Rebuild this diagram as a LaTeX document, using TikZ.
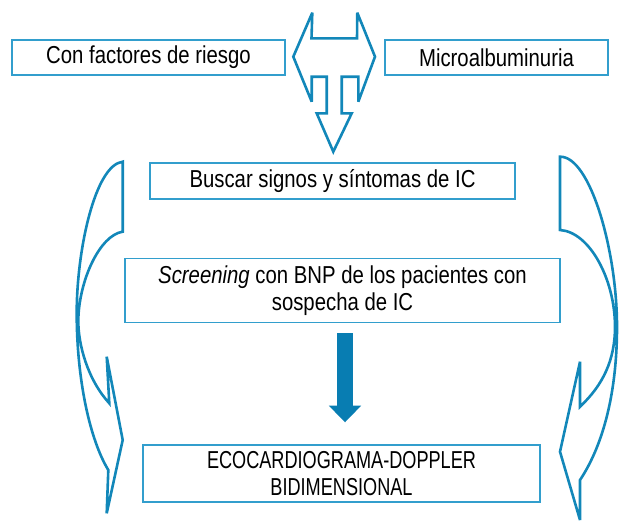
\documentclass[tikz,border=0pt]{standalone}
\usepackage{fontspec}
\setmainfont{Liberation Sans}[FakeStretch=0.83]
\usepackage{xcolor}
\usepackage{tikz}
\usetikzlibrary{arrows.meta}
\definecolor{lineablue}{RGB}{50,158,205}
\definecolor{flechablue}{RGB}{18,135,185}
\definecolor{rellenoblue}{RGB}{8,125,178}

\begin{document}
\begin{tikzpicture}[x=1pt,y=-1pt,node distance=183pt,
			caja/.style={draw=lineablue,line width=1.5pt,align=center,inner sep=0pt,
				font=\fontsize{24.5}{26.7}\selectfont},
			contorno/.style={draw=flechablue,line width=2.6pt,miter limit=4},
			gruesa/.style={draw=rellenoblue,line width=16.6pt,
				-{Triangle[width=32.4pt,length=16.6pt,line width=0pt]},
				shorten <=10pt,shorten >=22pt}]
			
			\useasboundingbox (0,0) rectangle (620,522);
			
			\node[caja,minimum width=273pt,minimum height=35pt] (riesgo) at (148.5,57.5) {Con factores de riesgo};
			\node[caja,minimum width=223pt,minimum height=35pt] (micro) at (496.5,57.5) {Microalbuminuria};
			\node[caja,minimum width=365pt,minimum height=36pt] (buscar) at (332.5,181) {Buscar signos y síntomas de IC};
			\node[caja,minimum width=435pt,minimum height=64pt] (scr) at (342.5,290.5) {\textit{Screening} con BNP de los pacientes con\\sospecha de IC};
			\node[caja,minimum width=397pt,minimum height=57pt] (eco) [below of = scr, xshift=-1pt]
				{\addfontfeatures{FakeStretch=0.74}ECOCARDIOGRAMA-DOPPLER\\\addfontfeatures{FakeStretch=0.74}BIDIMENSIONAL};
			
			\draw[gruesa] ([xshift=2.5pt]scr.south) -- ([xshift=3.5pt]eco.north);
			
			% flecha de las dos casillas de arriba
			\draw[contorno] (312.3,12.7) -- (311.5,38.3) -- (357,38.3) -- (357.3,12.7) -- (375,56.7)
				-- (358.3,101.7) -- (358.3,76.7) -- (341.7,76.7) -- (341.7,113.3) -- (351.7,113.3)
				-- (333.3,151.7) -- (316.7,113.3) -- (326.7,113.3) -- (326.7,76.7) -- (311.7,76.7)
				-- (311.7,101.7) -- (293.3,56.7) -- cycle;
			
			% flechas curvas
			\draw[contorno] (122.7,161.7) .. controls (95,165) and (76.7,250) .. (76.7,313)
				.. controls (76.7,380) and (90,440) .. (108.3,470) -- (106.7,513.3) -- (122.7,440)
				-- (106.7,356.7) -- (109.3,403.3) .. controls (88,380) and (78,345) .. (78.3,320)
				.. controls (79,280) and (100,235) .. (122.7,231.7) -- cycle;
			\draw[contorno] (560,156.7) .. controls (590,156) and (617,250) .. (617,326.7)
				.. controls (617,400) and (600,450) .. (580,480) -- (580,520) -- (560,451.7)
				-- (580,361.7) -- (580,406.7) .. controls (603,385) and (615,360) .. (615,326.7)
				.. controls (615,280) and (590,232) .. (560,230) -- cycle;
\end{tikzpicture}
\end{document}
